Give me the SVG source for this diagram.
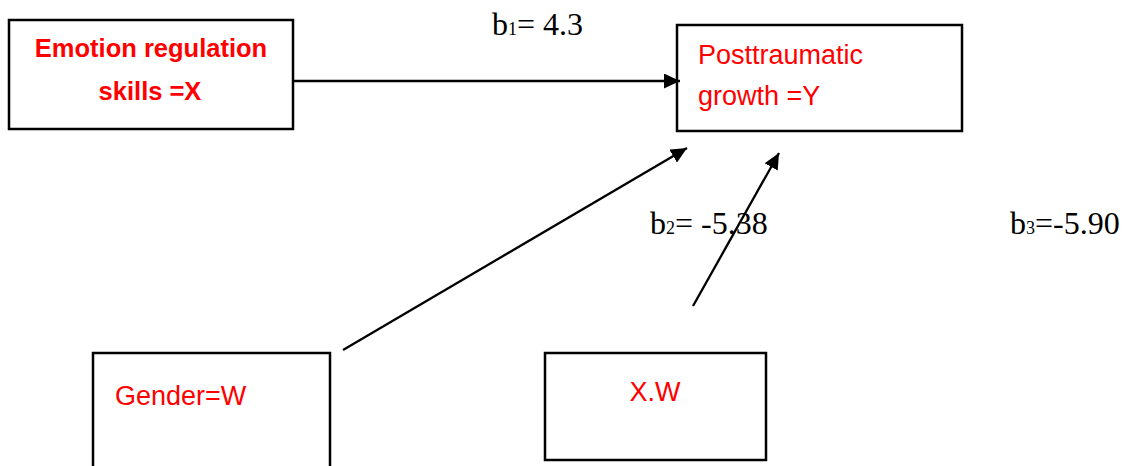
<svg xmlns="http://www.w3.org/2000/svg" width="1133" height="466" viewBox="0 0 1133 466">
<style>
.box{fill:#fff;stroke:#000;stroke-width:2.5}
.lab{font-family:"Liberation Sans",Arial,sans-serif;font-size:27px;fill:#ff0000}
.bold{font-weight:bold;font-size:25.5px}
.coef{font-family:"Liberation Serif","Times New Roman",serif;font-size:32px;fill:#000}
.sub{font-size:18px}
.conn{stroke:#000;stroke-width:2.3;fill:none;marker-end:url(#ah)}
</style>
<defs>
<marker id="ah" markerUnits="userSpaceOnUse" markerWidth="17" markerHeight="15" refX="16" refY="7.5" orient="auto">
<path d="M0,0 L16,7.5 L0,15 z" fill="#000"/>
</marker>
</defs>
<rect width="1133" height="466" fill="#fff"/>
<g id="node-x">
<rect class="box" x="9" y="20" width="284" height="109"/>
<text class="lab bold" x="151" y="57" text-anchor="middle">Emotion regulation</text>
<text class="lab bold" x="150" y="100" text-anchor="middle">skills =X</text>
</g>
<g id="node-y">
<rect class="box" x="677" y="25" width="285" height="106"/>
<text class="lab" x="698" y="64">Posttraumatic</text>
<text class="lab" x="698" y="105">growth =Y</text>
</g>
<g id="node-w">
<rect class="box" x="93" y="353" width="237" height="130"/>
<text class="lab" x="115" y="405">Gender=W</text>
</g>
<g id="node-xw">
<rect class="box" x="545" y="353" width="221" height="107"/>
<text class="lab" x="655" y="401" text-anchor="middle">X.W</text>
</g>
<g id="connectors">
<line class="conn" x1="293" y1="81" x2="680" y2="81"/>
<line class="conn" x1="343" y1="350" x2="687" y2="148"/>
<line class="conn" x1="693" y1="306" x2="779" y2="153"/>
</g>
<g id="labels">
<text class="coef" x="492" y="35">b<tspan class="sub">1</tspan>= 4.3</text>
<text class="coef" x="650" y="234">b<tspan class="sub">2</tspan>= -5.38</text>
<text class="coef" x="1010" y="234">b<tspan class="sub">3</tspan>=-5.90</text>
</g>
</svg>
